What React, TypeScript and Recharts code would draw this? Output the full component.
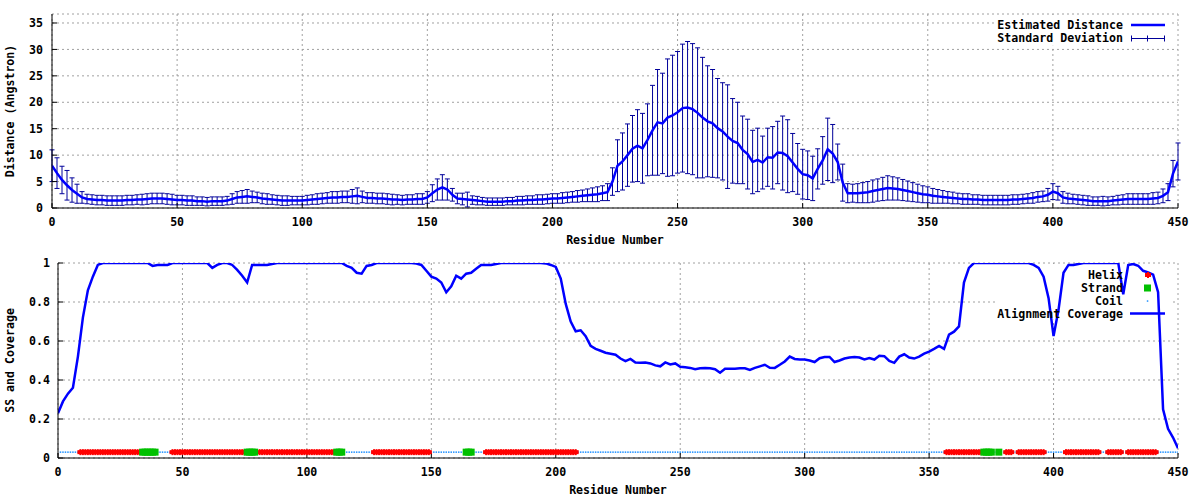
import React from 'react';
import {
  ComposedChart,
  Line,
  Scatter,
  XAxis,
  YAxis,
  CartesianGrid,
  ErrorBar,
  ReferenceArea,
  Legend,
} from 'recharts';

// ---------- DATA ----------
const residueStep = 2; // distance / coverage samples every 2 residues, starting at residue 0
const residueCount = 450;

const distMean = [
  8.0, 6.6, 5.3, 4.3, 3.4, 2.7, 2.0, 1.7, 1.6, 1.5,
  1.5, 1.4, 1.4, 1.4, 1.4, 1.5, 1.5, 1.6, 1.6, 1.7,
  1.8, 1.8, 1.8, 1.7, 1.6, 1.5, 1.5, 1.4, 1.4, 1.3,
  1.3, 1.2, 1.3, 1.3, 1.3, 1.4, 1.7, 2.0, 2.1, 2.2,
  2.1, 2.0, 1.8, 1.7, 1.6, 1.5, 1.4, 1.4, 1.4, 1.4,
  1.4, 1.5, 1.6, 1.7, 1.8, 1.9, 2.0, 2.0, 2.1, 2.1,
  2.2, 2.3, 2.1, 1.9, 1.9, 1.8, 1.8, 1.7, 1.6, 1.6,
  1.5, 1.6, 1.6, 1.7, 1.7, 2.0, 2.8, 3.5, 3.9, 3.5,
  2.5, 1.8, 1.7, 1.6, 1.5, 1.4, 1.3, 1.2, 1.2, 1.2,
  1.2, 1.3, 1.3, 1.4, 1.4, 1.5, 1.5, 1.6, 1.6, 1.7,
  1.8, 1.8, 1.9, 2.0, 2.1, 2.2, 2.3, 2.4, 2.5, 2.6,
  2.8, 3.0, 5.0, 8.0, 8.8, 10.0, 11.2, 11.8, 11.3, 12.9,
  14.7, 16.2, 16.0, 17.1, 17.5, 18.1, 18.9, 19.0, 18.7, 18.0,
  17.1, 16.4, 16.0, 15.1, 14.5, 13.5, 12.7, 12.3, 11.0, 10.2,
  8.7, 9.1, 8.6, 9.6, 9.5, 10.5, 10.4, 9.8, 8.6, 7.4,
  6.4, 6.2, 5.6, 7.4, 9.0, 11.1, 10.3, 8.7, 4.8, 2.8,
  2.8, 2.8, 2.9, 3.0, 3.2, 3.4, 3.6, 3.8, 3.7, 3.6,
  3.4, 3.2, 3.0, 2.8, 2.6, 2.5, 2.3, 2.2, 2.1, 2.0,
  1.9, 1.8, 1.7, 1.7, 1.6, 1.6, 1.5, 1.5, 1.5, 1.5,
  1.5, 1.5, 1.6, 1.6, 1.7, 1.8, 1.9, 2.1, 2.2, 2.5,
  3.1, 2.8, 2.0, 1.8, 1.7, 1.6, 1.5, 1.4, 1.3, 1.3,
  1.3, 1.3, 1.4, 1.5, 1.6, 1.7, 1.7, 1.7, 1.7, 1.7,
  1.8, 1.9, 2.3, 3.0, 6.5, 8.8,
];

const distSd = [
  3.0, 2.9, 2.6, 2.8, 2.3, 1.8, 1.1, 0.9, 0.9, 0.9,
  0.9, 0.9, 0.9, 0.9, 0.9, 0.9, 0.9, 0.9, 1.0, 1.0,
  1.0, 1.0, 1.0, 1.0, 1.0, 0.9, 0.9, 0.9, 0.9, 0.8,
  0.8, 0.8, 0.8, 0.8, 0.8, 0.8, 1.0, 1.1, 1.2, 1.3,
  1.1, 1.0, 1.0, 1.0, 0.9, 0.9, 0.9, 0.9, 0.8, 0.8,
  0.8, 0.9, 0.9, 1.0, 1.0, 1.0, 1.1, 1.1, 1.1, 1.1,
  1.3, 1.5, 1.1, 1.0, 1.0, 1.0, 1.0, 1.0, 1.0, 0.9,
  0.9, 0.9, 0.9, 1.0, 1.0, 1.1, 1.6, 2.0, 2.4, 2.0,
  1.2, 1.0, 1.1, 1.4, 0.8, 0.8, 0.7, 0.7, 0.7, 0.7,
  0.7, 0.7, 0.7, 0.8, 0.8, 0.8, 0.8, 0.9, 0.9, 0.9,
  0.9, 0.9, 1.0, 1.0, 1.0, 1.1, 1.1, 1.2, 1.3, 1.4,
  1.4, 1.6, 2.6, 4.9, 5.4, 5.9, 6.3, 6.8, 6.6, 6.8,
  8.5, 10.0, 9.5, 11.1, 11.4, 11.5, 12.1, 12.5, 12.4, 12.3,
  11.4, 10.5, 10.2, 9.4, 9.2, 9.8, 8.0, 7.7, 6.4, 6.6,
  6.0, 6.0, 5.0, 5.5, 5.9, 5.9, 7.0, 6.9, 5.5, 4.8,
  4.7, 4.6, 4.2, 3.8, 4.5, 5.9, 5.5, 3.4, 3.5, 1.8,
  1.7, 1.8, 1.9, 2.0, 2.1, 2.1, 2.2, 2.3, 2.2, 2.1,
  2.0, 1.9, 1.8, 1.7, 1.6, 1.5, 1.4, 1.3, 1.2, 1.1,
  1.1, 1.0, 1.0, 1.0, 0.9, 0.9, 0.9, 0.9, 0.9, 0.9,
  0.9, 0.9, 0.9, 0.9, 0.9, 0.9, 1.0, 1.0, 1.0, 1.2,
  1.5, 1.3, 1.1, 1.0, 0.9, 0.9, 0.9, 0.9, 0.8, 0.8,
  0.9, 0.8, 0.8, 0.9, 0.9, 1.0, 1.0, 1.0, 1.0, 1.0,
  1.1, 1.1, 1.3, 1.6, 2.5, 3.5,
];

const coverage = [
  0.23, 0.29, 0.33, 0.36, 0.52, 0.72, 0.86, 0.93, 0.99, 1.0,
  1.0, 1.0, 1.0, 1.0, 1.0, 1.0, 1.0, 1.0, 1.0, 0.985,
  0.99, 0.99, 0.99, 1.0, 1.0, 1.0, 1.0, 1.0, 1.0, 1.0,
  1.0, 0.975, 0.99, 1.0, 1.0, 0.99, 0.965, 0.935, 0.9, 0.99,
  0.99, 0.99, 0.99, 0.995, 1.0, 1.0, 1.0, 1.0, 1.0, 1.0,
  1.0, 1.0, 1.0, 1.0, 1.0, 1.0, 1.0, 1.0, 0.985, 0.975,
  0.95, 0.945, 0.985, 0.99, 1.0, 1.0, 1.0, 1.0, 1.0, 1.0,
  1.0, 1.0, 0.997, 0.99, 0.96, 0.93, 0.92, 0.9, 0.85, 0.88,
  0.935, 0.92, 0.945, 0.95, 0.97, 0.99, 0.99, 0.99, 0.995, 1.0,
  1.0, 1.0, 1.0, 1.0, 1.0, 1.0, 1.0, 1.0, 0.998, 0.99,
  0.98, 0.92, 0.79, 0.70, 0.65, 0.655, 0.625, 0.575, 0.56, 0.55,
  0.54, 0.535, 0.53, 0.51, 0.497, 0.508, 0.49, 0.488, 0.49, 0.485,
  0.475, 0.47, 0.49, 0.48, 0.485, 0.468, 0.465, 0.462, 0.455, 0.46,
  0.462, 0.46, 0.455, 0.437, 0.458, 0.458, 0.458, 0.46, 0.46, 0.452,
  0.462, 0.47, 0.478, 0.463, 0.462, 0.478, 0.495, 0.52, 0.508, 0.505,
  0.505, 0.5, 0.492, 0.512, 0.518, 0.518, 0.492, 0.5, 0.51, 0.515,
  0.518, 0.515, 0.505, 0.512, 0.505, 0.524, 0.522, 0.498, 0.488, 0.52,
  0.532, 0.515, 0.51, 0.52, 0.535, 0.546, 0.56, 0.575, 0.56, 0.633,
  0.648, 0.675, 0.9, 0.975, 1.0, 1.0, 1.0, 1.0, 1.0, 1.0,
  1.0, 1.0, 1.0, 1.0, 1.0, 1.0, 0.99, 0.975, 0.93, 0.82,
  0.625, 0.76, 0.95, 0.99, 0.99, 0.995, 1.0, 1.0, 1.0, 1.0,
  1.0, 1.0, 1.0, 1.0, 0.84, 0.99, 0.995, 0.986, 0.96, 0.952,
  0.94, 0.85, 0.25, 0.15, 0.105, 0.05,
];

// secondary structure segments [first residue, last residue]
const helixSegments = [
  [9, 33], [46, 75], [81, 111], [127, 149], [172, 208],
  [357, 371], [381, 383], [386, 396], [405, 418], [422, 427], [430, 441],
];
const strandSegments = [
  [34, 39], [76, 79], [112, 114], [164, 166], [372, 375], [378, 378],
];
const ssLevel = 0.03;

const xTicks = [0, 50, 100, 150, 200, 250, 300, 350, 400, 450];
const distTicks = [0, 5, 10, 15, 20, 25, 30, 35];
const covTicks = [0, 0.2, 0.4, 0.6, 0.8, 1];
const distMax = 36.7;

// ---------- TABLES ----------
const distData = distMean.map((m, i) => ({ res: i * residueStep, mean: m, sd: distSd[i] }));
const covData = coverage.map((c, i) => ({ res: i * residueStep, cov: c }));
const inSegs = (r: number, segs: number[][]) => segs.some(([a, b]) => r >= a && r <= b);
const allResidues = Array.from({ length: residueCount }, (_, i) => i + 1);
const helixData = allResidues.filter((r) => inSegs(r, helixSegments)).map((r) => ({ res: r, y: ssLevel }));
const strandData = allResidues.filter((r) => inSegs(r, strandSegments)).map((r) => ({ res: r, y: ssLevel }));
const coilData = allResidues
  .filter((r) => !inSegs(r, helixSegments) && !inSegs(r, strandSegments))
  .map((r) => ({ res: r, y: ssLevel }));

// ---------- STYLE ----------
const FONT = "'DejaVu Sans Mono', 'Liberation Mono', monospace";
const FS = 11.6;
const tickStyle = { fontFamily: FONT, fontSize: FS, fontWeight: 700, fill: '#000' };
const MEAN_COLOR = '#0000ff';
const ERR_COLOR = '#00009a';
const COV_COLOR = '#0000ff';
const HELIX_COLOR = '#ff0000';
const STRAND_COLOR = '#00c000';
const COIL_COLOR = '#1e90ff';
const GRID_COLOR = '#a0a0a0';

const HelixMark = (p: any) => {
  const { cx, cy } = p;
  if (cx == null || cy == null) return <g />;
  return (
    <g fill={HELIX_COLOR}>
      <rect x={cx - 3} y={cy - 2} width={6} height={4} />
      <rect x={cx - 1} y={cy - 3} width={2} height={6} />
    </g>
  );
};
const StrandMark = (p: any) => {
  const { cx, cy } = p;
  if (cx == null || cy == null) return <g />;
  return <rect x={cx - 3.5} y={cy - 3.5} width={7} height={7} fill={STRAND_COLOR} />;
};
const CoilMark = (p: any) => {
  const { cx, cy } = p;
  if (cx == null || cy == null) return <g />;
  return <rect x={cx - 0.75} y={cy - 0.75} width={1.5} height={1.5} fill={COIL_COLOR} />;
};

const xTitle = (props: any) => {
  const vb = props.viewBox || { x: 0, width: 0 };
  return (
    <text
      x={vb.x + vb.width / 2}
      y={240}
      textAnchor="middle"
      dominantBaseline="central"
      style={{ fontFamily: FONT, fontSize: FS, fontWeight: 700 }}
      fill="#000"
    >
      Residue Number
    </text>
  );
};

const makeYTitle = (text: string) => (props: any) => {
  const vb = props.viewBox || { y: 0, height: 0 };
  const cy = vb.y + vb.height / 2;
  return (
    <text
      transform={`translate(10, ${cy}) rotate(-90)`}
      textAnchor="middle"
      dominantBaseline="central"
      style={{ fontFamily: FONT, fontSize: FS, fontWeight: 700 }}
      fill="#000"
    >
      {text}
    </text>
  );
};

const legendText = { fontFamily: FONT, fontSize: FS, fontWeight: 700 } as const;

const TopLegend = () => (
  <svg width={185} height={34} style={{ display: 'block', overflow: 'visible' }}>
    <text x={133} y={11.3} textAnchor="end" dominantBaseline="central" style={legendText} fill="#000">
      Estimated Distance
    </text>
    <line x1={141} x2={175} y1={11} y2={11} stroke={MEAN_COLOR} strokeWidth={2.5} />
    <text x={133} y={24.3} textAnchor="end" dominantBaseline="central" style={legendText} fill="#000">
      Standard Deviation
    </text>
    <g stroke={ERR_COLOR} strokeWidth={1}>
      <line x1={141} x2={175} y1={24.5} y2={24.5} />
      <line x1={141.5} x2={141.5} y1={21.5} y2={27.5} />
      <line x1={174.5} x2={174.5} y1={21.5} y2={27.5} />
      <line x1={157.5} x2={157.5} y1={21.5} y2={27.5} />
    </g>
  </svg>
);

const BottomLegend = () => (
  <svg width={185} height={58} style={{ display: 'block', overflow: 'visible' }}>
    <text x={133} y={12} textAnchor="end" dominantBaseline="central" style={legendText} fill="#000">
      Helix
    </text>
    <g fill={HELIX_COLOR}>
      <rect x={155} y={10} width={6} height={4} />
      <rect x={157} y={9} width={2} height={6} />
    </g>
    <text x={133} y={25} textAnchor="end" dominantBaseline="central" style={legendText} fill="#000">
      Strand
    </text>
    <rect x={154} y={21.5} width={7} height={7} fill={STRAND_COLOR} />
    <text x={133} y={38} textAnchor="end" dominantBaseline="central" style={legendText} fill="#000">
      Coil
    </text>
    <rect x={156.8} y={37.3} width={1.5} height={1.5} fill={COIL_COLOR} />
    <text x={133} y={51} textAnchor="end" dominantBaseline="central" style={legendText} fill="#000">
      Alignment Coverage
    </text>
    <line x1={140} x2={175} y1={50.5} y2={50.5} stroke={COV_COLOR} strokeWidth={2.5} />
  </svg>
);

const DistanceChart = () => (
  <ComposedChart width={1200} height={250} margin={{ top: 14, right: 22, bottom: 12, left: 0 }}>
    <CartesianGrid stroke={GRID_COLOR} strokeDasharray="2 3" />
    <XAxis
      dataKey="res"
      type="number"
      domain={[0, 450]}
      ticks={xTicks}
      interval={0}
      height={30}
      tickSize={-5}
      tickMargin={15}
      tick={tickStyle}
      tickLine={{ stroke: '#000' }}
      axisLine={{ stroke: '#000' }}
      allowDataOverflow
      label={{ content: xTitle }}
    />
    <XAxis
      xAxisId="top"
      orientation="top"
      type="number"
      domain={[0, 450]}
      ticks={xTicks}
      interval={0}
      height={0}
      tickSize={-5}
      tick={false}
      tickLine={{ stroke: '#000' }}
      axisLine={{ stroke: '#000' }}
      allowDataOverflow
    />
    <YAxis
      type="number"
      domain={[0, distMax]}
      ticks={distTicks}
      interval={0}
      width={52}
      tickSize={-5}
      tickMargin={14}
      tick={tickStyle}
      tickLine={{ stroke: '#000' }}
      axisLine={{ stroke: '#000' }}
      allowDataOverflow
      label={{ content: makeYTitle('Distance (Angstron)') }}
    />
    <YAxis
      yAxisId="right"
      orientation="right"
      type="number"
      domain={[0, distMax]}
      ticks={distTicks}
      interval={0}
      width={0}
      tickSize={-5}
      tick={false}
      tickLine={{ stroke: '#000' }}
      axisLine={{ stroke: '#000' }}
      allowDataOverflow
    />
    <ReferenceArea
      x1={377.7}
      x2={447.6}
      y1={30.7}
      y2={36.5}
      fill="#ffffff"
      fillOpacity={1}
      stroke="none"
      ifOverflow="visible"
      zIndex={-50}
    />
    <Line
      data={distData}
      dataKey="mean"
      type="linear"
      stroke="none"
      dot={false}
      activeDot={false}
      legendType="none"
      isAnimationActive={false}
    >
      <ErrorBar dataKey="sd" width={2.5} stroke={ERR_COLOR} strokeWidth={1} direction="y" isAnimationActive={false} />
    </Line>
    <Line
      data={distData}
      dataKey="mean"
      type="linear"
      stroke={MEAN_COLOR}
      strokeWidth={2.5}
      dot={false}
      activeDot={false}
      isAnimationActive={false}
    />
    <Legend
      layout="horizontal"
      verticalAlign="middle"
      align="center"
      wrapperStyle={{ position: 'absolute', left: 990, top: 14, width: 185, height: 34, margin: 0, padding: 0 }}
      content={() => <TopLegend />}
    />
  </ComposedChart>
);

const CoverageChart = () => (
  <ComposedChart width={1200} height={250} margin={{ top: 13, right: 22, bottom: 12, left: 0 }}>
    <CartesianGrid stroke={GRID_COLOR} strokeDasharray="2 3" />
    <XAxis
      dataKey="res"
      type="number"
      domain={[0, 450]}
      ticks={xTicks}
      interval={0}
      height={30}
      tickSize={-5}
      tickMargin={15}
      tick={tickStyle}
      tickLine={{ stroke: '#000' }}
      axisLine={{ stroke: '#000' }}
      allowDataOverflow
      label={{ content: xTitle }}
    />
    <XAxis
      xAxisId="top"
      orientation="top"
      type="number"
      domain={[0, 450]}
      ticks={xTicks}
      interval={0}
      height={0}
      tickSize={-5}
      tick={false}
      tickLine={{ stroke: '#000' }}
      axisLine={{ stroke: '#000' }}
      allowDataOverflow
    />
    <YAxis
      type="number"
      domain={[0, 1]}
      ticks={covTicks}
      interval={0}
      width={58}
      tickSize={-5}
      tickMargin={13}
      tick={tickStyle}
      tickFormatter={(v: number) => String(v)}
      tickLine={{ stroke: '#000' }}
      axisLine={{ stroke: '#000' }}
      allowDataOverflow
      label={{ content: makeYTitle('SS and Coverage') }}
    />
    <YAxis
      yAxisId="right"
      orientation="right"
      type="number"
      domain={[0, 1]}
      ticks={covTicks}
      interval={0}
      width={0}
      tickSize={-5}
      tick={false}
      tickLine={{ stroke: '#000' }}
      axisLine={{ stroke: '#000' }}
      allowDataOverflow
    />
    <ReferenceArea
      x1={377.3}
      x2={447.6}
      y1={0.709}
      y2={0.995}
      fill="#ffffff"
      fillOpacity={1}
      stroke="none"
      ifOverflow="visible"
      zIndex={-50}
    />
    <Scatter data={coilData} dataKey="y" shape={CoilMark} isAnimationActive={false} legendType="none" />
    <Scatter data={helixData} dataKey="y" shape={HelixMark} isAnimationActive={false} legendType="none" />
    <Scatter data={strandData} dataKey="y" shape={StrandMark} isAnimationActive={false} legendType="none" />
    <Line
      data={covData}
      dataKey="cov"
      type="linear"
      stroke={COV_COLOR}
      strokeWidth={2.5}
      dot={false}
      activeDot={false}
      isAnimationActive={false}
    />
    <Legend
      layout="horizontal"
      verticalAlign="middle"
      align="center"
      wrapperStyle={{ position: 'absolute', left: 990, top: 13, width: 185, height: 58, margin: 0, padding: 0 }}
      content={() => <BottomLegend />}
    />
  </ComposedChart>
);

export default function App() {
  return (
    <div style={{ position: 'absolute', left: 0, top: 0, width: 1200, height: 500, background: '#fff' }}>
      <div style={{ position: 'absolute', left: 0, top: 0, width: 1200, height: 250 }}>
        <DistanceChart />
      </div>
      <div style={{ position: 'absolute', left: 0, top: 250, width: 1200, height: 250 }}>
        <CoverageChart />
      </div>
    </div>
  );
}
